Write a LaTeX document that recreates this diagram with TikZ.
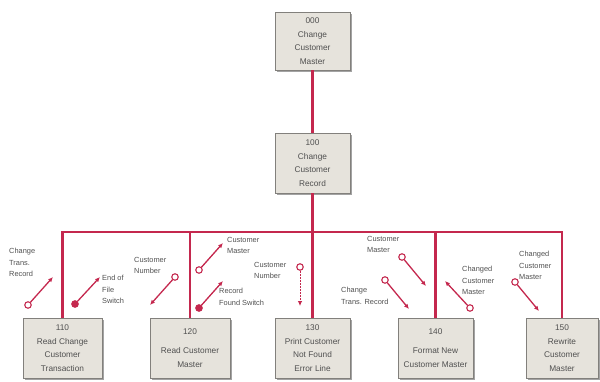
\documentclass[tikz,border=0pt]{standalone}
\usepackage{fontspec}
\setmainfont{Liberation Sans}
\usetikzlibrary{arrows.meta,shadows}
\definecolor{crim}{RGB}{196,40,78}
\definecolor{boxfill}{RGB}{230,227,220}
\definecolor{boxline}{RGB}{130,128,124}
\definecolor{txt}{RGB}{80,80,80}
\tikzset{
  mod/.style={draw=boxline, line width=0.8pt, fill=boxfill, align=center, text=txt,
    font=\fontsize{8.3}{13.5}\selectfont, inner sep=0pt,
    drop shadow={shadow xshift=1.6pt, shadow yshift=-1.6pt, fill=black!45, opacity=0.8}},
  conn/.style={draw=crim, line width=2.6pt},
  couple/.style={draw=crim, line width=1.3pt, -{Latex[length=5pt,width=4.5pt]}},
  ocirc/.style={circle, draw=crim, line width=1.1pt, fill=white, inner sep=0pt, minimum size=6.5pt},
  fcirc/.style={circle, draw=crim, line width=1.1pt, fill=crim, inner sep=0pt, minimum size=6.5pt},
  lbl/.style={align=left, text=txt, font=\fontsize{7.4}{11.5}\selectfont, inner sep=0pt, anchor=north west}
}
\begin{document}
\begin{tikzpicture}[x=1pt,y=-1pt]
\useasboundingbox (0,0) rectangle (600,382);
% modules
\node[mod, minimum width=75pt, minimum height=58pt] (b000) at (312.5,41) {000\\Change\\Customer\\Master};
\node[mod, minimum width=75pt, minimum height=60pt] (b100) at (312.5,163) {100\\Change\\Customer\\Record};
\node[mod, minimum width=79pt, minimum height=60pt] (b110) at (62.5,348) {110\\Read Change\\Customer\\Transaction};
\node[mod, minimum width=80pt, minimum height=60pt] (b120) at (190,348) {120\\[6pt]Read Customer\\Master};
\node[mod, minimum width=75pt, minimum height=60pt] (b130) at (312.5,348) {130\\Print Customer\\Not Found\\Error Line};
\node[mod, minimum width=75pt, minimum height=60pt] (b140) at (435.5,348) {140\\[6pt]Format New\\Customer Master};
\node[mod, minimum width=72pt, minimum height=60pt] (b150) at (562,348) {150\\Rewrite\\Customer\\Master};
% structure lines
\coordinate (j110) at (b110.north |- 0,232);
\coordinate (j150) at (b150.north |- 0,232);
\draw[conn] (b000.south) -- (b100.north);
\draw[conn] (b100.south) -- (b100.south |- j110);
\draw[conn] (b110.north) -- (j110) -- (j150) -- (b150.north);
\draw[conn] (b120.north) -- (b120.north |- j110);
\draw[conn] (b130.north) -- (b130.north |- j110);
\draw[conn] (b140.north) -- (b140.north |- j110);
% couples
\node[ocirc] (c1) at (28,305) {};
\coordinate (e1) at (53,277);
\draw[couple] (c1) -- (e1);
\node[lbl] (l1) at (9,248) {Change\\Trans.\\Record};

\node[fcirc] (c2) at (75,304) {};
\coordinate (e2) at (100,277);
\draw[couple] (c2) -- (e2);
\node[lbl] (l2) at (102,275) {End of\\File\\Switch};

\node[ocirc] (c3) at (175,277) {};
\coordinate (e3) at (150,305);
\draw[couple] (c3) -- (e3);
\node[lbl] (l3) at (134,257) {Customer\\Number};

\node[ocirc] (c4) at (199,270) {};
\coordinate (e4) at (223,243);
\draw[couple] (c4) -- (e4);
\node[lbl] (l4) at (227,237) {Customer\\Master};

\node[fcirc] (c5) at (199,308) {};
\coordinate (e5) at (223,281);
\draw[couple] (c5) -- (e5);
\node[lbl] (l5) at (219,288) {Record\\Found Switch};

\node[ocirc] (c6) at (300,267) {};
\coordinate (e6) at (300,306);
\draw[couple, line width=0.8pt, dash pattern=on 2pt off 1pt] (c6) -- (e6);
\node[lbl] (l6) at (254,262) {Customer\\Number};

\node[ocirc] (c7) at (402,257) {};
\coordinate (e7) at (426,286);
\draw[couple] (c7) -- (e7);
\node[lbl] (l7) at (367,236) {Customer\\Master};

\node[ocirc] (c8) at (385,280) {};
\coordinate (e8) at (409,309);
\draw[couple] (c8) -- (e8);
\node[lbl] (l8) at (341,287) {Change\\Trans. Record};

\node[ocirc] (c9) at (470,308) {};
\coordinate (e9) at (445,281);
\draw[couple] (c9) -- (e9);
\node[lbl] (l9) at (462,266) {Changed\\Customer\\Master};

\node[ocirc] (c10) at (515,282) {};
\coordinate (e10) at (539,311);
\draw[couple] (c10) -- (e10);
\node[lbl] (l10) at (519,251) {Changed\\Customer\\Master};
\end{tikzpicture}
\end{document}
